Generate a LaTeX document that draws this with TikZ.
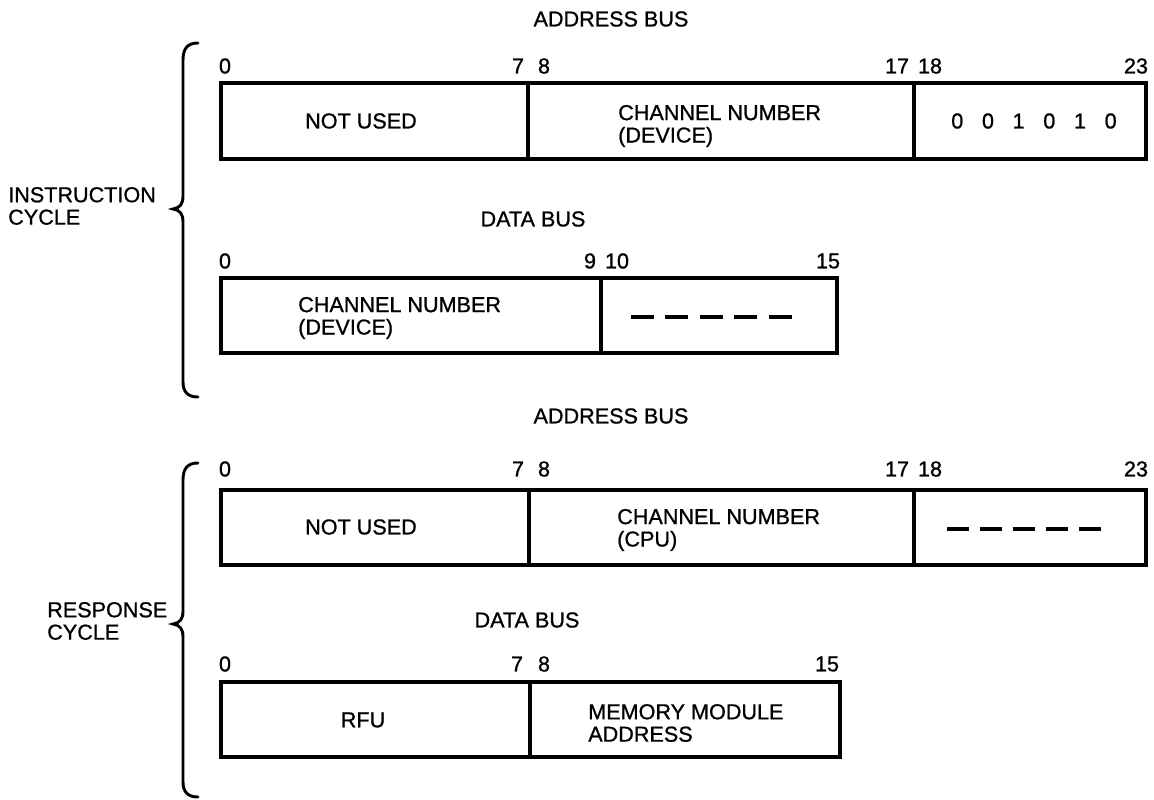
\documentclass[tikz,border=0pt]{standalone}
\usepackage{fontspec}
\setmainfont{Liberation Sans}
\newfontfamily\labelfont[FakeBold=0.9]{Liberation Sans}
\begin{document}
\begin{tikzpicture}[x=0.75pt,y=-0.75pt,
  txt/.style={inner sep=0pt, font=\labelfont\fontsize{16.2pt}{16.8pt}\selectfont},
  frame/.style={line width=2.5pt},
  divider/.style={line width=2.3pt},
  bracket/.style={line width=2.2pt, line cap=round},
  gapA/.style={line width=3.7pt, dash pattern=on 17.25pt off 8.6pt},
  gapB/.style={line width=3.7pt, dash pattern=on 16.5pt off 8.25pt}]
\useasboundingbox (0,0) rectangle (1154,800);

% ---------- instruction cycle ----------
\node[txt, anchor=west, align=left] (instr) at (8,206) {INSTRUCTION\\CYCLE};
\draw[bracket] (198,43) .. controls (188,43) and (183,48) .. (183,60)
  -- (183,196) .. controls (183,204) and (180,208) .. (173,209)
  .. controls (180,210) and (183,214) .. (183,222)
  -- (183,382) .. controls (183,392) and (188,397) .. (198,397);

% address bus, instruction cycle
\node[txt] (ab1) at (611,19) {ADDRESS BUS};
\node[txt] (ab1b0) at (225,66) {0};
\node[txt] (ab1b7) at (518,66) {7};
\node[txt] (ab1b8) at (544,66) {8};
\node[txt] (ab1b17) at (897,66) {17};
\node[txt] (ab1b18) at (930,66) {18};
\node[txt] (ab1b23) at (1136,66) {23};
\draw[frame] (221,83) rectangle (1146,159);
\draw[divider] (528,83) -- (528,159);
\draw[divider] (914,83) -- (914,159);
\node[txt] (ab1f1) at (361,121) {NOT USED};
\node[txt, anchor=west, align=left] (ab1f2) at (618,126) {CHANNEL NUMBER\\(DEVICE)};
\node[txt] (ab1f3) at (1034,121) {0\hspace{14pt}0\hspace{14pt}1\hspace{14pt}0\hspace{14pt}1\hspace{14pt}0};

% data bus, instruction cycle
\node[txt] (db1) at (533,219) {DATA BUS};
\node[txt] (db1b0) at (225,261) {0};
\node[txt] (db1b9) at (590,261) {9};
\node[txt] (db1b10) at (617,261) {10};
\node[txt] (db1b15) at (828,261) {15};
\draw[frame] (221,278) rectangle (837,353);
\draw[divider] (601,278) -- (601,353);
\node[txt, anchor=west, align=left] (db1f1) at (298,318) {CHANNEL NUMBER\\(DEVICE)};
\coordinate (db1gs) at (631,317);
\coordinate (db1ge) at (792,317);
\draw[gapA] (db1gs) -- (db1ge);

% ---------- response cycle ----------
\node[txt, anchor=west, align=left] (resp) at (47,621) {RESPONSE\\CYCLE};
\draw[bracket] (198,463) .. controls (188,463) and (183,468) .. (183,480)
  -- (183,611) .. controls (183,619) and (180,623) .. (173,624)
  .. controls (180,625) and (183,629) .. (183,637)
  -- (183,782) .. controls (183,792) and (188,797) .. (198,797);

% address bus, response cycle
\node[txt] (ab2) at (611,416) {ADDRESS BUS};
\node[txt] (ab2b0) at (225,469) {0};
\node[txt] (ab2b7) at (518,469) {7};
\node[txt] (ab2b8) at (544,469) {8};
\node[txt] (ab2b17) at (897,469) {17};
\node[txt] (ab2b18) at (930,469) {18};
\node[txt] (ab2b23) at (1136,469) {23};
\draw[frame] (221,490) rectangle (1146,565);
\draw[divider] (529,490) -- (529,565);
\draw[divider] (914,490) -- (914,565);
\node[txt] (ab2f1) at (361,527) {NOT USED};
\node[txt, anchor=west, align=left] (ab2f2) at (617,530) {CHANNEL NUMBER\\(CPU)};
\coordinate (ab2gs) at (947,529);
\coordinate (ab2ge) at (1101,529);
\draw[gapB] (ab2gs) -- (ab2ge);

% data bus, response cycle
\node[txt] (db2) at (527,620) {DATA BUS};
\node[txt] (db2b0) at (225,664) {0};
\node[txt] (db2b7) at (517,664) {7};
\node[txt] (db2b8) at (544,664) {8};
\node[txt] (db2b15) at (827,664) {15};
\draw[frame] (221,682) rectangle (840,757);
\draw[divider] (530,682) -- (530,757);
\node[txt] (db2f1) at (363,720) {RFU};
\node[txt, anchor=west, align=left] (db2f2) at (588,723) {MEMORY MODULE\\ADDRESS};
\end{tikzpicture}
\end{document}
